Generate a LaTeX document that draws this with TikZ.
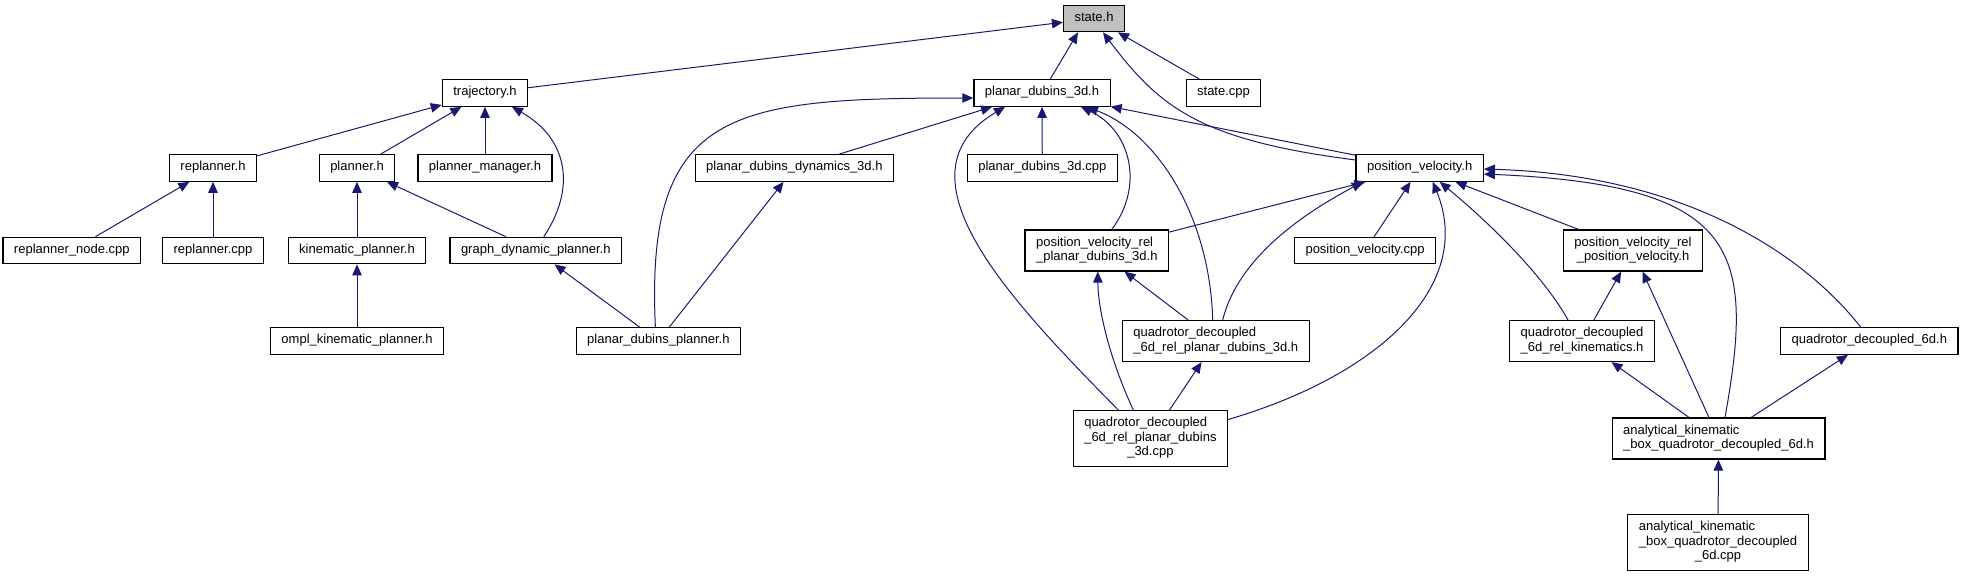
\documentclass[tikz,border=0pt]{standalone}
\usepackage{fontspec}
\setmainfont{Liberation Sans}
\usetikzlibrary{arrows.meta}
\definecolor{navy}{HTML}{191970}
\newcommand{\doxlabel}[2]{\begin{tabular}{@{}l@{}}#1\\\multicolumn{1}{@{}c@{}}{#2}\end{tabular}}

\begin{document}
\begin{tikzpicture}[
    x=1pt, y=-1pt,
    file/.style={rectangle, draw=black, fill=white, line width=1.2pt,
                 font=\fontsize{13}{14.5}\selectfont, inner xsep=11pt,
                 inner ysep=6pt, minimum height=26pt, execute at begin node=\strut},
    current/.style={file, fill=gray!50},
    dep/.style={draw=navy, line width=1pt, -{Triangle[length=11pt, width=9.5pt]}}]
\useasboundingbox (0,0) rectangle (1961,576);

\node[current] (stateh) at (1094,18.5) {state.h};
\node[file] (trajectoryh) at (485,93) {trajectory.h};
\node[file] (pdubinsh) at (1042,93) {planar\_dubins\_3d.h};
\node[file] (statecpp) at (1223.5,93) {state.cpp};
\node[file] (replannerh) at (213,168) {replanner.h};
\node[file] (plannerh) at (357,168) {planner.h};
\node[file] (managerh) at (485,168) {planner\_manager.h};
\node[file] (pdynh) at (794.4,168) {planar\_dubins\_dynamics\_3d.h};
\node[file] (pdubinscpp) at (1042.3,168) {planar\_dubins\_3d.cpp};
\node[file] (posvelh) at (1419.7,168) {position\_velocity.h};
\node[file] (rnodecpp) at (71.8,250.5) {replanner\_node.cpp};
\node[file] (replannercpp) at (213,250.5) {replanner.cpp};
\node[file] (kinplannerh) at (357,250.5) {kinematic\_planner.h};
\node[file] (graphplannerh) at (535.8,250.5) {graph\_dynamic\_planner.h};
\node[file] (pvrelpdh) at (1096.8,250.5) {\doxlabel{position\_velocity\_rel}{\_planar\_dubins\_3d.h}};
\node[file] (posvelcpp) at (1365,250.5) {position\_velocity.cpp};
\node[file] (pvrelpvh) at (1633,250.5) {\doxlabel{position\_velocity\_rel}{\_position\_velocity.h}};
\node[file] (omplh) at (357,341) {ompl\_kinematic\_planner.h};
\node[file] (pdplannerh) at (658.4,341) {planar\_dubins\_planner.h};
\node[file] (qdrelpdh) at (1215.7,341) {\doxlabel{quadrotor\_decoupled}{\_6d\_rel\_planar\_dubins\_3d.h}};
\node[file] (qdrelkinh) at (1582,341) {\doxlabel{quadrotor\_decoupled}{\_6d\_rel\_kinematics.h}};
\node[file] (qdh) at (1869.3,341) {quadrotor\_decoupled\_6d.h};
\node[file] (qdrelpdcpp) at (1150.4,438.5) {\doxlabel{quadrotor\_decoupled\\\_6d\_rel\_planar\_dubins}{\_3d.cpp}};
\node[file] (akboxh) at (1718.5,438.5) {\doxlabel{analytical\_kinematic}{\_box\_quadrotor\_decoupled\_6d.h}};
\node[file] (akboxcpp) at (1718,542.5) {\doxlabel{analytical\_kinematic\\\_box\_quadrotor\_decoupled}{\_6d.cpp}};

% state.h
\draw[dep] (trajectoryh) -- (stateh);
\draw[dep] (pdubinsh) -- ([xshift=-16pt]stateh.south);
\draw[dep] ([yshift=8pt]posvelh.west) .. controls (1200,140) and (1160,108) .. ([xshift=9pt]stateh.south);
\draw[dep] (statecpp) -- ([xshift=24pt]stateh.south);

% trajectory.h
\draw[dep] (replannerh) -- (trajectoryh);
\draw[dep] (plannerh) -- (trajectoryh);
\draw[dep] (managerh) -- (trajectoryh);
\draw[dep] ([xshift=8pt]graphplannerh.north) .. controls (575,190) and (570,140) .. ([xshift=27pt]trajectoryh.south);

% planners
\draw[dep] (rnodecpp) -- (replannerh);
\draw[dep] (replannercpp) -- (replannerh);
\draw[dep] (kinplannerh) -- (plannerh);
\draw[dep] (graphplannerh) -- (plannerh);
\draw[dep] (omplh) -- (kinplannerh);
\draw[dep] (pdplannerh) -- (graphplannerh);
\draw[dep] (pdplannerh) -- (pdynh);

% planar_dubins_3d.h
\draw[dep] ([xshift=-3pt]pdplannerh.north) .. controls (645,110) and (730,98) .. ([yshift=-5pt]pdubinsh.west);
\draw[dep] (pdynh) -- ([xshift=-50pt]pdubinsh.south);
\draw[dep] (pdubinscpp) -- (pdubinsh);
\draw[dep] ([xshift=-32pt]qdrelpdcpp.north) .. controls (1010,300) and (890,175) .. ([xshift=-37pt]pdubinsh.south);
\draw[dep] ([xshift=15pt]pvrelpdh.north) .. controls (1145,185) and (1130,130) .. ([xshift=39pt]pdubinsh.south);
\draw[dep] ([xshift=-3pt]qdrelpdh.north) .. controls (1210,220) and (1160,135) .. ([xshift=45pt]pdubinsh.south);
\draw[dep] (posvelh) -- (pdubinsh);

% position_velocity.h
\draw[dep] (pvrelpdh) -- (posvelh);
\draw[dep] ([xshift=7pt]qdrelpdh.north) .. controls (1240,250) and (1320,205) .. ([xshift=-57pt]posvelh.south);
\draw[dep] (posvelcpp) -- (posvelh);
\draw[dep] ([yshift=19pt]qdrelpdcpp.east) .. controls (1380,375) and (1475,285) .. ([xshift=13pt]posvelh.south);
\draw[dep] ([xshift=-14pt]qdrelkinh.north) .. controls (1540,270) and (1480,215) .. ([xshift=20pt]posvelh.south);
\draw[dep] (pvrelpvh) -- (posvelh);
\draw[dep] ([xshift=6.5pt]akboxh.north) .. controls (1755,250) and (1740,185) .. ([yshift=-6pt]posvelh.east);
\draw[dep] ([xshift=-8.6pt]qdh.north) .. controls (1800,250) and (1680,175) .. ([yshift=-1pt]posvelh.east);

% lower headers
\draw[dep] ([xshift=-17pt]qdrelpdcpp.north) .. controls (1110,360) and (1098,310) .. ([xshift=1pt]pvrelpdh.south);
\draw[dep] (qdrelpdh) -- (pvrelpdh);
\draw[dep] (qdrelpdcpp) -- (qdrelpdh);
\draw[dep] (qdrelkinh) -- (pvrelpvh);
\draw[dep] (akboxh) -- (pvrelpvh);
\draw[dep] (akboxh) -- (qdrelkinh);
\draw[dep] (akboxh) -- (qdh);
\draw[dep] (akboxcpp) -- (akboxh);
\end{tikzpicture}
\end{document}
